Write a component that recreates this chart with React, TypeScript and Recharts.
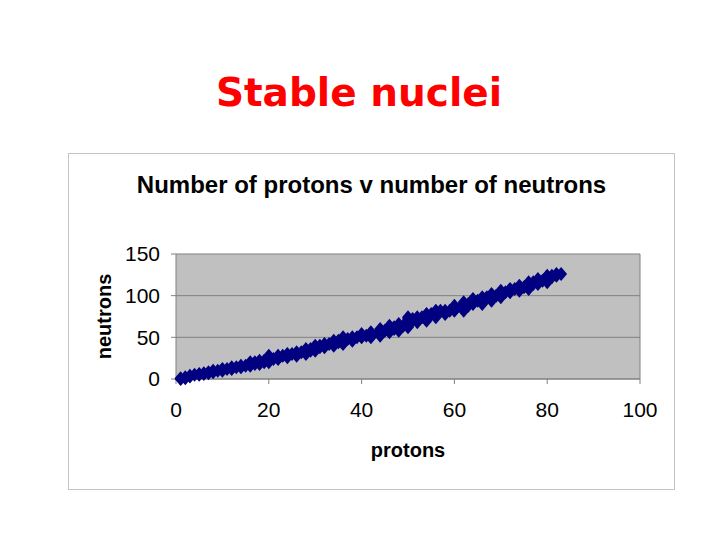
import React from 'react';
import {
  ScatterChart,
  Scatter,
  XAxis,
  YAxis,
  CartesianGrid,
  ReferenceLine,
} from 'recharts';

// stable nuclides: proton number and the neutron numbers seen for it
const protonNumbers = [
  1, 2, 3, 4, 5, 6, 7, 8, 9, 10, 11, 12, 13, 14, 15, 16, 17, 18, 19, 20,
  21, 22, 23, 24, 25, 26, 27, 28, 29, 30, 31, 32, 33, 34, 35, 36, 37, 38, 39, 40,
  41, 42, 44, 45, 46, 47, 48, 49, 50, 51, 52, 53, 54, 55, 56, 57, 58, 59, 60,
  62, 63, 64, 65, 66, 67, 68, 69, 70, 71, 72, 73, 74, 75, 76, 77, 78, 79, 80,
  81, 82, 83,
];

const neutronCounts = [
  [0, 1], [1, 2], [3, 4], [5], [5, 6], [6, 7], [7, 8], [8, 9, 10], [10], [10, 11, 12],
  [12], [12, 13, 14], [14], [14, 15, 16], [16], [16, 17, 18, 20], [18, 20], [18, 20, 22], [20, 22], [20, 22, 23, 24, 26, 28],
  [24], [24, 25, 26, 27, 28], [28], [26, 28, 29, 30], [30], [28, 30, 31, 32], [32], [30, 32, 33, 34, 36], [34, 36], [34, 36, 37, 38, 40],
  [38, 40], [38, 40, 41, 42], [42], [40, 42, 43, 44, 46], [44, 46], [42, 44, 46, 47, 48, 50], [48], [46, 48, 49, 50], [50], [50, 51, 52, 54],
  [52], [50, 52, 53, 54, 55, 56], [52, 54, 55, 56, 57, 58, 60], [58], [56, 58, 59, 60, 62, 64], [60, 62], [58, 60, 62, 63, 64, 66], [64],
  [62, 64, 65, 66, 67, 68, 69, 70, 72, 74], [70, 72], [68, 70, 71, 72, 73, 74], [74], [70, 72, 74, 75, 76, 77, 78], [78],
  [74, 76, 78, 79, 80, 81, 82], [82], [78, 80, 82], [82], [82, 83, 85, 86, 88],
  [82, 85, 86, 88, 90, 92], [88, 90], [90, 91, 92, 93, 94, 96], [94], [90, 92, 94, 95, 96, 97, 98], [98], [94, 96, 98, 99, 100, 102], [100],
  [98, 100, 101, 102, 103, 104, 106], [104], [104, 105, 106, 107, 108], [108], [106, 108, 109, 110, 112], [110], [108, 111, 112, 113, 114, 116],
  [114, 116], [114, 116, 117, 118, 120], [118], [116, 118, 119, 120, 121, 122, 124],
  [122, 124], [124, 125, 126], [126],
];

const xTicks = [0, 20, 40, 60, 80, 100];
const yTicks = [0, 50, 100, 150];

const points = protonNumbers.flatMap((z, i) =>
  neutronCounts[i].map((n) => ({ protons: z, neutrons: n }))
);

const Diamond = (props: any) => {
  const { cx, cy } = props;
  if (cx == null || cy == null) return null;
  return (
    <polygon
      points={`${cx},${cy - 7} ${cx + 6},${cy} ${cx},${cy + 7} ${cx - 6},${cy}`}
      fill="#000080"
    />
  );
};

const tickFont = { fontFamily: '"Liberation Sans", Arial, sans-serif', fontSize: 21, fill: '#000' };
const labelFont = { fontFamily: '"Liberation Sans", Arial, sans-serif', fontWeight: 'bold', fontSize: 20, fill: '#000' };

export default function App() {
  return (
    <div style={{ position: 'relative', width: 720, height: 540, margin: -8, background: '#fff' }}>
      <div
        style={{
          position: 'absolute',
          left: 0,
          width: 718,
          top: 70,
          textAlign: 'center',
          fontFamily: '"DejaVu Sans", Tahoma, sans-serif',
          fontWeight: 'bold',
          fontSize: 39,
          color: '#ff0000',
          lineHeight: '46px',
        }}
      >
        Stable nuclei
      </div>
      <div
        style={{
          position: 'absolute',
          left: 68,
          top: 153,
          width: 605,
          height: 335,
          border: '1px solid #c4c4c4',
        }}
      />
      <div
        style={{
          position: 'absolute',
          left: 68,
          width: 607,
          top: 170,
          textAlign: 'center',
          fontFamily: '"Liberation Sans", Arial, sans-serif',
          fontWeight: 'bold',
          fontSize: 24,
          color: '#000',
          lineHeight: '30px',
        }}
      >
        Number of protons v number of neutrons
      </div>
      <div style={{ position: 'absolute', left: 0, top: 0 }}>
        <ScatterChart width={720} height={540} margin={{ top: 254, right: 80, bottom: 111, left: 0 }}>
          <CartesianGrid fill="#c0c0c0" stroke="#808080" vertical={false} />
          <XAxis
            type="number"
            dataKey="protons"
            domain={[0, 100]}
            ticks={xTicks}
            height={50}
            stroke="#808080"
            tickSize={5}
            tickMargin={18}
            tick={tickFont}
            label={{ value: 'protons', position: 'insideBottom', offset: -28, style: labelFont }}
          />
          <YAxis
            type="number"
            dataKey="neutrons"
            domain={[0, 150]}
            ticks={yTicks}
            width={176}
            stroke="#808080"
            tickSize={5}
            tickMargin={11}
            tick={tickFont}
            label={{
              value: 'neutrons',
              angle: -90,
              position: 'insideLeft',
              offset: 104,
              style: { ...labelFont, textAnchor: 'middle' },
            }}
          />
          <ReferenceLine x={100} stroke="#808080" />
          <Scatter data={points} shape={<Diamond />} isAnimationActive={false} />
        </ScatterChart>
      </div>
    </div>
  );
}
